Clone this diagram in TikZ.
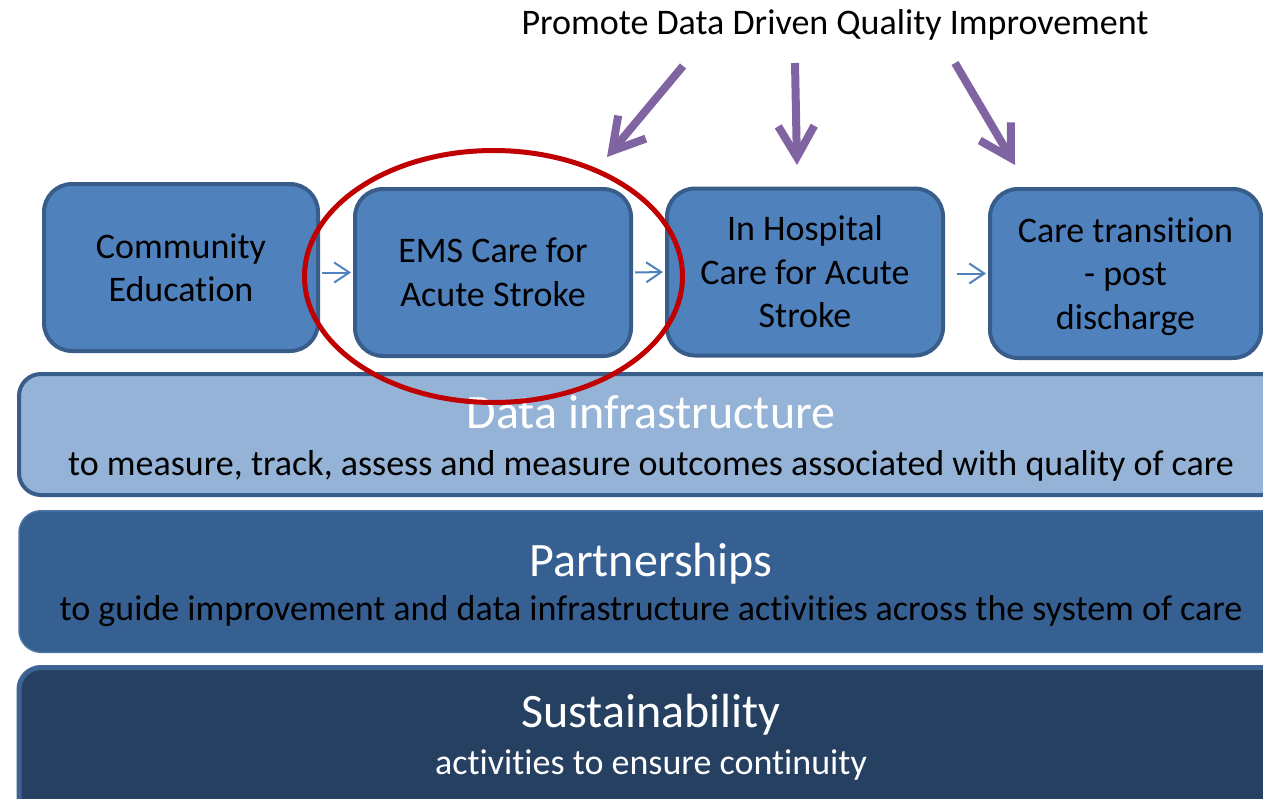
\documentclass[tikz,border=0pt]{standalone}
\usepackage{fontspec}
\setmainfont{Carlito}[Ligatures=NoCommon, RawFeature=-liga, RawFeature=-clig]
\usetikzlibrary{arrows.meta,shapes.geometric}
\definecolor{boxfill}{HTML}{4F81BD}
\definecolor{boxline}{HTML}{385D8A}
\definecolor{bandA}{HTML}{95B3D7}
\definecolor{bandB}{HTML}{376092}
\definecolor{bandBline}{HTML}{4A74A8}
\definecolor{bandC}{HTML}{254061}
\definecolor{bandCline}{HTML}{3C6394}
\definecolor{ring}{HTML}{C00000}
\definecolor{promo}{HTML}{8064A2}
\begin{document}
\begin{tikzpicture}[x=1pt,y=-1pt,
  stepbox/.style={draw=boxline, line width=4pt, fill=boxfill, rounded corners=28pt,
    minimum width=276pt, minimum height=167pt, inner sep=0pt, align=center,
    font=\fontsize{36}{43.5}\selectfont, text=black},
  bandbox/.style={rounded corners=22pt, minimum width=1264pt, inner sep=0pt},
  bigtitle/.style={anchor=base, text=white, font=\fontsize{48}{58}\selectfont, inner sep=0pt},
  subtitle/.style={anchor=base, font=\fontsize{36}{43}\selectfont, inner sep=0pt},
  flow/.style={draw=boxfill, line width=2pt, -{Straight Barb[length=15pt, width=20pt]}},
  promote/.style={draw=promo, line width=8pt, -{Straight Barb[length=31pt, width=36pt]}}
]
\useasboundingbox (0,0) rectangle (1263,798);
\clip (0,0) rectangle (1263,798);

% bands
\node[bandbox, fill=bandA, draw=boxline, line width=4pt, minimum height=121pt] (data) at (651,434.5) {};
\node[bandbox, fill=bandB, draw=bandBline, line width=1.5pt, minimum height=141.5pt] (part) at (651,581.5) {};
\node[bandbox, fill=bandC, draw=bandCline, line width=5pt, minimum height=162.5pt] (sust) at (651,748.75) {};

% process boxes
\node[stepbox, minimum width=274pt] (b1) at (181,267.5) {Community\\Education};
\node[stepbox] (b2) at (493,272.5) {EMS Care for\\Acute Stroke};
\node[stepbox] (b3) at (805,272) {In Hospital\\Care for Acute\\Stroke};
\node[stepbox, minimum width=271pt, minimum height=169pt, text depth=0pt] (b4) at (1125.5,273.5) {Care transition\\- post\\discharge};

% flow arrows
\draw[flow, shorten <=2pt, shorten >=2pt] (b1.east |- b2.west) -- (b2.west);
\draw[flow, shorten <=2pt, shorten >=2pt] (b2.east) -- (b3.west);
\draw[flow, shorten <=12pt, shorten >=2pt] (b3.east |- b4.west) -- (b4.west);

% band texts
\node[bigtitle] (datat) at (651,428) {Data infrastructure};
\node[subtitle] (datas) at (651,475) {to measure, track, assess and measure outcomes associated with quality of care};
\node[bigtitle] (partt) at (651,576) {Partnerships};
\node[subtitle] (parts) at (651,620) {to guide improvement and data infrastructure activities across the system of care};
\node[bigtitle] (sustt) at (651,727) {Sustainability};
\node[subtitle, text=white] (susts) at (651,774) {activities to ensure continuity};

% title and purple arrows
\node[subtitle] (title) at (835,34) {Promote Data Driven Quality Improvement};
\coordinate (p1s) at (683,66);
\coordinate (p1e) at (607,157);
\coordinate (p2s) at (795,63);
\coordinate (p2e) at (797,165);
\coordinate (p3s) at (955,63);
\coordinate (p3e) at (1015,165);
\draw[promote] (p1s) -- (p1e);
\draw[promote] (p2s) -- (p2e);
\draw[promote] (p3s) -- (p3e);

% highlight ring
\node[draw=ring, line width=5pt, ellipse, minimum width=378pt, minimum height=252pt, inner sep=0pt] (ringnode) at (493.5,276.5) {};
\end{tikzpicture}
\end{document}
